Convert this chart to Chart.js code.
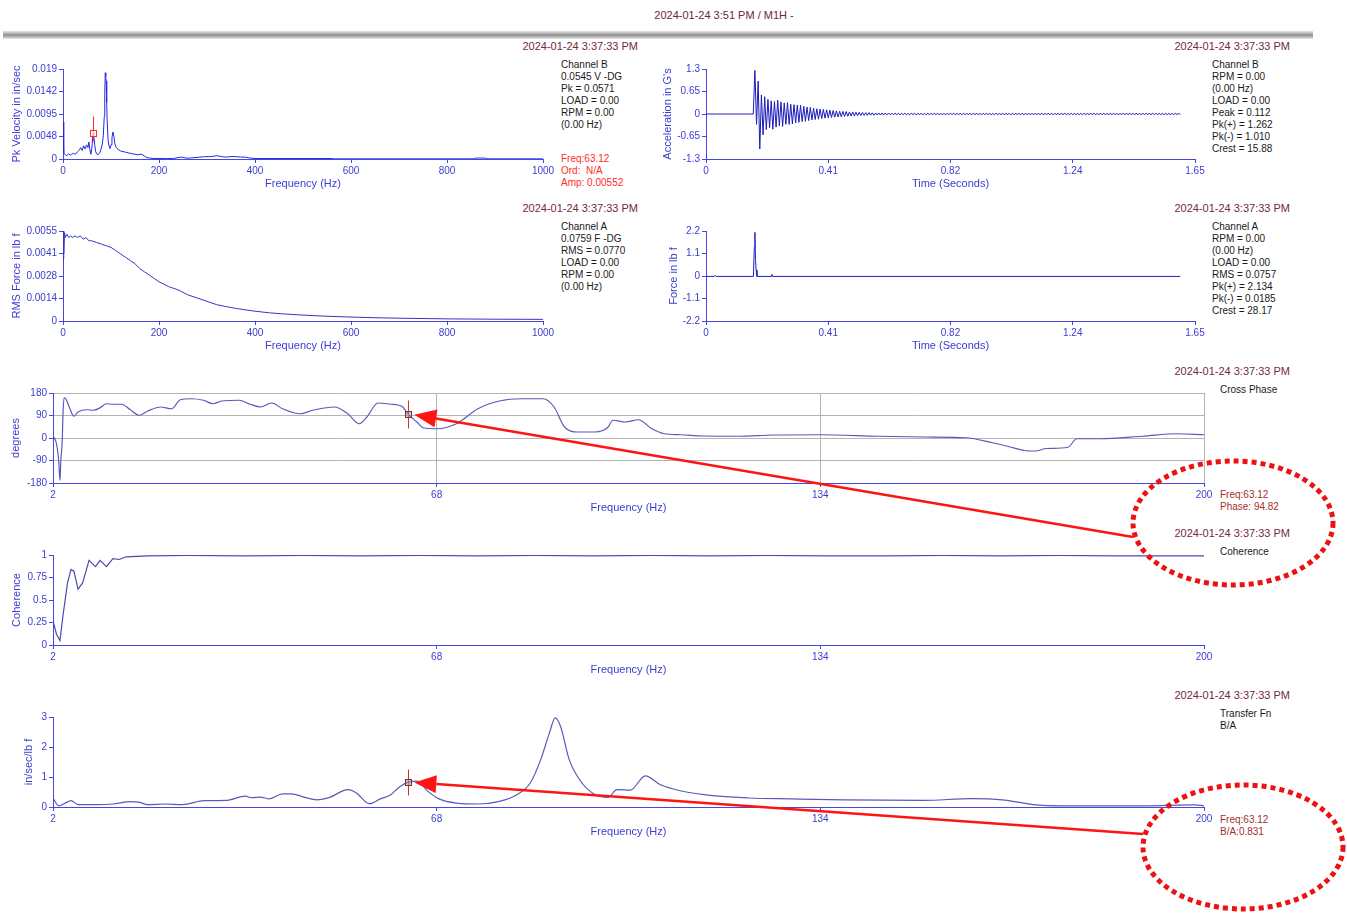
<!DOCTYPE html>
<html>
<head>
<meta charset="utf-8">
<script src="https://cdn.jsdelivr.net/npm/chart.js@4.4.1/dist/chart.umd.min.js"></script>
<style>
  html, body { margin: 0; padding: 0; background: #fff; }
  #stage { position: relative; width: 1347px; height: 913px; overflow: hidden; background: #fff;
           font-family: "Liberation Sans", Arial, sans-serif; }
  #stage canvas { position: absolute; }
  .txt { position: absolute; font-size: 10px; line-height: 12px; color: #1a1a1a; white-space: pre; }
  .stamp { position: absolute; font-size: 11px; line-height: 14px; color: #742848; white-space: pre; text-align: right; }
  .cur1 { color: #ff2a2a; }
  .cur2 { color: #a5302c; }
  #header { position: absolute; left: 0; width: 1448px; top: 9px; text-align: center; font-size: 11px; color: #6e2448; }
  #bar { position: absolute; left: 3px; width: 1310px; top: 31px; height: 8px;
         background: linear-gradient(#e6e6e6, #bdbdbd 25%, #8f8f8f 50%, #b8b8b8 75%, #ececec); }
  #overlay { z-index: 5; pointer-events: none; }
</style>
</head>
<body>
<div id="stage">
  <div id="header">2024-01-24 3:51 PM / M1H -</div>
  <div id="bar"></div>

  <div class="stamp" style="right:709px; top:39px;">2024-01-24 3:37:33 PM</div>
  <div class="stamp" style="right:57px; top:39px;">2024-01-24 3:37:33 PM</div>
  <div class="stamp" style="right:709px; top:201px;">2024-01-24 3:37:33 PM</div>
  <div class="stamp" style="right:57px; top:201px;">2024-01-24 3:37:33 PM</div>
  <div class="stamp" style="right:57px; top:364px;">2024-01-24 3:37:33 PM</div>
  <div class="stamp" style="right:57px; top:526px;">2024-01-24 3:37:33 PM</div>
  <div class="stamp" style="right:57px; top:688px;">2024-01-24 3:37:33 PM</div>

  <div class="txt" style="left:561px; top:59px;">Channel B
0.0545 V -DG
Pk = 0.0571
LOAD = 0.00
RPM = 0.00
(0.00 Hz)</div>
  <div class="txt cur1" style="left:561px; top:153px;">Freq:63.12
Ord:  N/A
Amp: 0.00552</div>

  <div class="txt" style="left:1212px; top:59px;">Channel B
RPM = 0.00
(0.00 Hz)
LOAD = 0.00
Peak = 0.112
Pk(+) = 1.262
Pk(-) = 1.010
Crest = 15.88</div>

  <div class="txt" style="left:561px; top:221px;">Channel A
0.0759 F -DG
RMS = 0.0770
LOAD = 0.00
RPM = 0.00
(0.00 Hz)</div>

  <div class="txt" style="left:1212px; top:221px;">Channel A
RPM = 0.00
(0.00 Hz)
LOAD = 0.00
RMS = 0.0757
Pk(+) = 2.134
Pk(-) = 0.0185
Crest = 28.17</div>

  <div class="txt" style="left:1220px; top:384px;">Cross Phase</div>
  <div class="txt cur2" style="left:1220px; top:489px;">Freq:63.12
Phase: 94.82</div>

  <div class="txt" style="left:1220px; top:546px;">Coherence</div>

  <div class="txt" style="left:1220px; top:708px;">Transfer Fn
B/A</div>
  <div class="txt cur2" style="left:1220px; top:814px;">Freq:63.12
B/A:0.831</div>

  <canvas id="overlay" width="1347" height="913" style="left:0;top:0;"></canvas>
</div>

<script>
// ---------- Channel B velocity spectrum (0-1000 Hz) ----------
const velFreq = [0, 1, 2, 5, 8, 12, 15, 18, 22, 26, 30, 34, 37, 40, 43, 46, 49, 52, 54, 56, 58, 60, 62, 63.12, 64, 66, 68, 70, 73, 76, 79, 82, 84, 86, 87, 88, 89, 90, 91, 92, 94, 96, 98, 100, 102, 104, 106, 108, 111, 115, 120, 128, 136, 145, 155, 162, 166, 170, 175, 180, 190, 200, 215, 230, 240, 248, 256, 265, 275, 285, 295, 305, 315, 322, 330, 340, 350, 360, 370, 380, 390, 400, 450, 500, 560, 565, 600, 700, 800, 855, 860, 880, 885, 900, 1000];
const velAmp = [0.0078, 0.0016, 0.0012, 0.0009, 0.0007, 0.0011, 0.0008, 0.0010, 0.0012, 0.0010, 0.0015, 0.0019, 0.0024, 0.0018, 0.0028, 0.0021, 0.0030, 0.0024, 0.0036, 0.0020, 0.0010, 0.0022, 0.0048, 0.00552, 0.0050, 0.0030, 0.0016, 0.0011, 0.0009, 0.0012, 0.0020, 0.0032, 0.0050, 0.0090, 0.0140, 0.0182, 0.0175, 0.0165, 0.0120, 0.0080, 0.0040, 0.0027, 0.0022, 0.0030, 0.0045, 0.0057, 0.0048, 0.0032, 0.0024, 0.0020, 0.0017, 0.0015, 0.0013, 0.0011, 0.0009, 0.0010, 0.0009, 0.0006, 0.0003, 0.0002, 0.0001, 0.0001, 0.00008, 0.0001, 0.0003, 0.0004, 0.0002, 0.0002, 0.0003, 0.0004, 0.0005, 0.0005, 0.0006, 0.0007, 0.0005, 0.0004, 0.0005, 0.0005, 0.0004, 0.0004, 0.0002, 0.0001, 0.0001, 0.0001, 0.0001, 0.00003, 0.00003, 0.00003, 0.00003, 0.00003, 0.0002, 0.0002, 0.00003, 0.00003, 0.00003];
const velYLabels = ['0', '0.0048', '0.0095', '0.0142', '0.019'];

// ---------- Channel B acceleration waveform ----------
const accStep = 0.0055; // seconds per sample
const accValues = [
  0,0,0,0,0,0,0,0,0,0, 0,0,0,0,0,0,0,0,0,0, 0,0,0,0,0,0,0,0,0,
  0, 1.26, -0.30, 0.95, -1.01, 0.55, -0.60, 0.50, -0.45, 0.42,
  -0.40, 0.38, -0.44, 0.36, -0.38, 0.40, -0.34, 0.35,
  -0.36, 0.32, -0.30, 0.33, -0.30, 0.28, -0.29, 0.27, -0.26,
  0.26, -0.24, 0.25, -0.22, 0.22, -0.21, 0.20, -0.19, 0.19, -0.17,
  0.17, -0.16, 0.15, -0.15, 0.14, -0.13, 0.13, -0.12, 0.12, -0.11,
  0.11, -0.10, 0.10, -0.09, 0.09, -0.085, 0.08, -0.08, 0.075, -0.07,
  0.07, -0.065, 0.06, -0.06, 0.06, -0.055, 0.05, -0.05, 0.05, -0.045,
  0.045, -0.04, 0.04, -0.04, 0.04, -0.035, 0.035, -0.035, 0.03, -0.03,
  0.03, -0.03, 0.03, -0.028, 0.028, -0.025, 0.025, -0.025, 0.025, -0.022,
  0.022,-0.02,0.02,-0.022,0.02,-0.018,0.022,-0.02,0.018,-0.02,0.02,-0.018,0.02,-0.02,0.018,-0.018,
  0.02,-0.02,0.018,-0.02,0.022,-0.018,0.02,-0.02,0.018,-0.018,0.02,-0.02,0.016,-0.018,0.02,-0.02,
  0.018,-0.018,0.02,-0.016,0.018,-0.02,0.02,-0.018,0.016,-0.018,0.02,-0.018,0.018,-0.016,0.018,-0.02,
  0.02,-0.018,0.016,-0.016,0.018,-0.02,0.018,-0.016,0.02,-0.018,0.016,-0.018,0.018,-0.02,0.02,-0.016,
  0.016,-0.018,0.02,-0.018,0.016,-0.016,0.018,-0.02,0.02,-0.018,0.016,-0.016,0.018,-0.018,0.02,-0.02,
  0.018,-0.016,0.016,-0.018,0.02,-0.018,0.018,-0.016,0.016,-0.02,0.02,-0.018,0.016,-0.016,0.018,-0.018,
  0.02,-0.02,0.018,-0.016,0.016,-0.018,0.02,-0.018,0.018,-0.016,0.016,-0.018,0.02,-0.02,0.018,-0.016,
  0.016,-0.018,0.018,-0.02,0.02,-0.016,0.016,-0.018,0.018,-0.018,0.02,-0.02,0.016,-0.016,0.018,-0.018,
  0.02,-0.018,0.016,-0.016,0.018,-0.02,0.02,-0.018,0.016,-0.018,0.018,-0.016,0.02,-0.02,0.018,-0.016,
  0.016,-0.018,0.02,-0.018,0.018,-0.016,0.016,-0.02,0.02,-0.018,0.018,-0.016,0.016,-0.018,0.02,-0.02,
  0.018,-0.016,0.016,-0.018,0.02,-0.02,0.018,-0.016,0.016,-0.018,0.018,-0.02,0.02,-0.016,0.016,-0.01
];
const accYLabels = ['-1.3', '-0.65', '0', '0.65', '1.3'];
const timeLabels = ['0', '0.41', '0.82', '1.24', '1.65'];

// ---------- Channel A force spectrum ----------
const forceFreq = [0, 1, 2, 3, 5, 8, 12, 16, 20, 25, 30, 36, 42, 48, 54, 60, 70, 80, 90, 100, 110, 120, 130, 140, 150, 160, 170, 180, 190, 200, 220, 240, 260, 280, 300, 320, 340, 360, 380, 400, 430, 460, 500, 550, 600, 650, 700, 800, 900, 1000];
const forceRms = [0.0038, 0.0055, 0.0041, 0.0054, 0.0051, 0.0053, 0.0051, 0.0052, 0.0051, 0.0052, 0.0051, 0.0052, 0.0050, 0.0051, 0.0049, 0.0049, 0.0048, 0.0047, 0.0046, 0.0045, 0.0043, 0.0041, 0.0039, 0.0037, 0.0035, 0.0032, 0.0030, 0.0028, 0.0026, 0.0024, 0.0021, 0.0019, 0.0016, 0.0014, 0.0012, 0.0010, 0.00088, 0.00077, 0.00068, 0.0006, 0.0005, 0.00043, 0.00036, 0.00029, 0.00024, 0.0002, 0.00017, 0.00013, 0.00011, 0.0001];
const forceYLabels = ['0', '0.0014', '0.0028', '0.0041', '0.0055'];
const freqLabels = ['0', '200', '400', '600', '800', '1000'];

// ---------- Channel A force waveform ----------
const hitTime = [0, 0.028, 0.031, 0.034, 0.16, 0.163, 0.165, 0.167, 0.169, 0.172, 0.22, 0.222, 0.225, 1.6];
const hitForce = [-0.02, -0.02, 0.03, -0.02, -0.02, 1.4, 2.134, 0.8, 0.3, -0.02, -0.02, 0.08, -0.02, -0.02];
const hitYLabels = ['-2.2', '-1.1', '0', '1.1', '2.2'];

// ---------- Cross phase, coherence, transfer function (2-200 Hz) ----------
const bandLabels = ['2', '68', '134', '200'];
const phaseFreq = [2, 2.6, 3.0, 3.2, 3.35, 3.6, 3.7, 3.9, 4.2, 4.8, 5.6, 6.3, 7.8, 9.0, 10.1, 11.2, 12.3, 13.8, 15.3, 16.8, 18.3, 20.5, 22.4, 23.9, 25.8, 27.9, 29.5, 31.0, 34.0, 35.9, 37.7, 39.6, 41.5, 44.5, 46.7, 50.4, 52.7, 54.7, 56.0, 57.9, 60.1, 62.0, 63.12, 64.6, 65.8, 68, 71.4, 75.1, 78.8, 82.6, 86.3, 88.2, 90.0, 92.3, 95.3, 97.5, 98.3, 100.5, 102.7, 105.0, 107.2, 110, 114, 120, 126, 134, 144, 152, 159, 163.8, 166.5, 169.1, 171, 172.9, 176.6, 178.1, 182, 189.4, 195.4, 200];
const phaseDeg = [10, -23, -96, -170, -90, -3, 84, 161, 157, 124, 87, 104, 113, 111, 121, 137, 135, 135, 113, 91, 108, 124, 117, 153, 157, 151, 137, 148, 151, 135, 124, 140, 117, 97, 111, 124, 97, 57, 84, 140, 135, 127, 94.82, 64, 40, 37, 57, 117, 148, 157, 157, 124, 44, 24, 24, 44, 71, 64, 73, 37, 17, 13, 8, 7, 12, 13, 7, 4, 1, -20, -35, -50, -52, -42, -37, -3, -3, 7, 17, 13];
const phaseLabels = ['-180', '-90', '0', '90', '180'];

const cohFreq = [2, 2.6, 3.2, 3.7, 4.5, 5.1, 5.6, 6.3, 7.1, 8.2, 9.3, 10.1, 11.2, 12.3, 13.4, 14.6, 18.3, 25, 35, 45, 55, 65, 75, 85, 95, 105, 115, 125, 135, 145, 155, 165, 175, 185, 195, 200];
const cohVal = [0.27, 0.12, 0.05, 0.32, 0.69, 0.84, 0.82, 0.62, 0.69, 0.94, 0.87, 0.94, 0.87, 0.96, 0.95, 0.98, 0.99, 0.995, 0.99, 0.995, 0.99, 0.995, 0.99, 0.995, 0.99, 0.995, 0.99, 0.995, 0.99, 0.99, 0.995, 0.99, 0.995, 0.99, 0.99, 0.99];
const cohLabels = ['0', '0.25', '0.5', '0.75', '1'];

const tfFreq = [2, 3, 4.1, 5.1, 6.3, 9.3, 12.3, 15.3, 16.8, 18.3, 21.3, 24.3, 28, 31.7, 35.1, 36.2, 37.7, 39.2, 41.5, 43.0, 45.2, 47.4, 49.7, 52.7, 54.2, 56.4, 58.3, 60.1, 61.6, 63.12, 64.6, 66.5, 68.4, 71.4, 75.1, 78.8, 81.8, 84.1, 85.9, 87.4, 88.4, 89.3, 90.8, 93.0, 95.3, 97.5, 99.0, 101.3, 103.9, 106.5, 108.7, 114.0, 121.6, 129.1, 138.1, 151.7, 160.0, 165.3, 170.6, 175.9, 189.4, 198.5, 200];
const tfVal = [0.30, 0.04, 0.13, 0.21, 0.08, 0.08, 0.10, 0.18, 0.16, 0.08, 0.10, 0.08, 0.21, 0.22, 0.36, 0.31, 0.33, 0.27, 0.44, 0.44, 0.33, 0.24, 0.33, 0.58, 0.47, 0.11, 0.27, 0.41, 0.67, 0.831, 0.86, 0.52, 0.27, 0.13, 0.10, 0.19, 0.41, 0.80, 1.58, 2.47, 2.97, 2.69, 1.58, 0.80, 0.41, 0.32, 0.58, 0.56, 1.04, 0.74, 0.60, 0.41, 0.30, 0.27, 0.24, 0.22, 0.28, 0.24, 0.08, 0.04, 0.04, 0.07, 0.04];
const tfLabels = ['0', '1', '2', '3'];

// cursor readout
const cursorFreq = 63.12;
const cursorAmp = 0.00552;
const cursorPhase = 94.82;
const cursorBA = 0.831;

// ---------- drawing ----------
const FONT = '"Liberation Sans", Arial, sans-serif';
const AXIS_BLUE = '#4646e0';
const LABEL_BLUE = '#3c3cd2';
Chart.defaults.font.family = FONT;

const stage = document.getElementById('stage');

// Tick values spaced evenly between min and max, one per label
const evenTicks = labels => scale => {
  scale.ticks = labels.map((_, i) => ({ value: scale.min + i * (scale.max - scale.min) / (labels.length - 1) }));
};

// Cursor: short vertical hairline plus a small square on the selected point
const cursorPlugin = {
  id: 'cursorMark',
  afterDatasetsDraw(chart, args, opts) {
    if (!opts || opts.x === undefined) return;
    const { ctx, scales } = chart;
    const px = Math.round(scales.x.getPixelForValue(opts.x)) + 0.5;
    const py = Math.round(scales.y.getPixelForValue(opts.y)) + 0.5;
    ctx.save();
    ctx.strokeStyle = opts.lineColor;
    ctx.lineWidth = 1;
    ctx.beginPath();
    ctx.moveTo(px, py - opts.up);
    ctx.lineTo(px, py + opts.down);
    ctx.stroke();
    ctx.fillStyle = opts.fill;
    ctx.fillRect(px - 3, py - 3, 6, 6);
    ctx.strokeStyle = opts.boxColor;
    ctx.strokeRect(px - 3, py - 3, 6, 6);
    ctx.restore();
  }
};

function panel(p) {
  const cv = document.createElement('canvas');
  cv.width = p.w; cv.height = 140;
  cv.style.left = p.left + 'px';
  cv.style.top = p.top + 'px';
  stage.insertBefore(cv, document.getElementById('overlay'));
  const data = p.xs.map((x, i) => ({ x, y: p.ys[i] }));
  const gridOpts = p.grid
    ? { drawOnChartArea: true, drawTicks: true, tickLength: 4, tickColor: AXIS_BLUE, lineWidth: 1,
        color: c => (c.tick && (c.tick.value === p.gridSkip)) ? 'rgba(0,0,0,0)' : '#b4b4b4' }
    : { drawOnChartArea: false, drawTicks: true, tickLength: 4, tickColor: AXIS_BLUE };
  const chart = new Chart(cv, {
    type: 'line',
    data: { datasets: [{ data, borderColor: p.color, borderWidth: p.lw || 1, pointRadius: 0,
                         tension: p.tension || 0, cubicInterpolationMode: p.tension ? 'monotone' : 'default', fill: false }] },
    options: {
      responsive: false, animation: false, devicePixelRatio: 1,
      layout: { padding: { top: 14, right: 20, left: 0, bottom: 0 } },
      plugins: { legend: { display: false }, tooltip: { enabled: false }, cursorMark: p.cursor || {} },
      scales: {
        x: {
          type: 'linear', min: p.xMin, max: p.xMax,
          afterFit: s => { s.height = 36; },
          afterBuildTicks: evenTicks(p.xLabels),
          ticks: { callback: (v, i) => p.xLabels[i], color: LABEL_BLUE, font: { size: 10 }, padding: 2,
                   maxRotation: 0, autoSkip: false },
          grid: Object.assign({}, gridOpts, p.grid ? { color: c => (c.tick && c.tick.value === p.xMin) ? 'rgba(0,0,0,0)' : '#b4b4b4' } : {}),
          border: { color: AXIS_BLUE, width: 1 },
          title: { display: true, text: p.xTitle, color: LABEL_BLUE, font: { size: 11 }, padding: { top: 0, bottom: 4 } }
        },
        y: {
          type: 'linear', min: p.yMin, max: p.yMax,
          afterFit: s => { s.width = p.yw; },
          afterBuildTicks: evenTicks(p.yLabels),
          ticks: { callback: (v, i) => p.yLabels[i], color: LABEL_BLUE, font: { size: 10 }, padding: 2, autoSkip: false },
          grid: gridOpts,
          border: { color: AXIS_BLUE, width: 1 },
          title: { display: true, text: p.yTitle, color: LABEL_BLUE, font: { size: 11 }, padding: { top: p.ytp, bottom: 0 } }
        }
      }
    },
    plugins: [cursorPlugin]
  });
  chart.$left = p.left; chart.$top = p.top;
  return chart;
}

const accTime = accValues.map((_, i) => i * accStep);

panel({ left: 0, top: 55, w: 563, yw: 63, ytp: 10, xs: velFreq, ys: velAmp, color: '#2626e6',
        xMin: 0, xMax: 1000, xLabels: freqLabels, yMin: 0, yMax: 0.019, yLabels: velYLabels,
        xTitle: 'Frequency (Hz)', yTitle: 'Pk Velocity in in/sec',
        cursor: { x: cursorFreq, y: cursorAmp, up: 17, down: 8, lineColor: '#ff2a2a', boxColor: '#ff2a2a', fill: 'rgba(255,255,255,0.6)' } });

panel({ left: 650, top: 55, w: 565, yw: 56, ytp: 11, xs: accTime, ys: accValues, color: '#1a1ab8',
        xMin: 0, xMax: 1.65, xLabels: timeLabels, yMin: -1.3, yMax: 1.3, yLabels: accYLabels,
        xTitle: 'Time (Seconds)', yTitle: "Acceleration in G's" });

panel({ left: 0, top: 217, w: 563, yw: 63, ytp: 10, xs: forceFreq, ys: forceRms, color: '#3636c4',
        xMin: 0, xMax: 1000, xLabels: freqLabels, yMin: 0, yMax: 0.0055, yLabels: forceYLabels,
        xTitle: 'Frequency (Hz)', yTitle: 'RMS Force in lb f' });

panel({ left: 650, top: 217, w: 565, yw: 56, ytp: 17, xs: hitTime, ys: hitForce, color: '#1c1cc8',
        xMin: 0, xMax: 1.65, xLabels: timeLabels, yMin: -2.2, yMax: 2.2, yLabels: hitYLabels,
        xTitle: 'Time (Seconds)', yTitle: 'Force in lb f' });

const phaseChart = panel({ left: 0, top: 379, w: 1224, yw: 53, ytp: 9, xs: phaseFreq, ys: phaseDeg, color: '#5a5ab6', lw: 1.2,
        tension: 0.4, grid: true, gridSkip: -180,
        xMin: 2, xMax: 200, xLabels: bandLabels, yMin: -180, yMax: 180, yLabels: phaseLabels,
        xTitle: 'Frequency (Hz)', yTitle: 'degrees',
        cursor: { x: cursorFreq, y: cursorPhase, up: 14, down: 14, lineColor: '#c03a30', boxColor: '#7a3434', fill: 'rgba(150,150,170,0.5)' } });

panel({ left: 0, top: 541, w: 1224, yw: 53, ytp: 10, xs: cohFreq, ys: cohVal, color: '#4a4ab0', lw: 1.2,
        xMin: 2, xMax: 200, xLabels: bandLabels, yMin: 0, yMax: 1, yLabels: cohLabels,
        xTitle: 'Frequency (Hz)', yTitle: 'Coherence' });

const tfChart = panel({ left: 0, top: 703, w: 1224, yw: 53, ytp: 22, xs: tfFreq, ys: tfVal, color: '#5a5ab6', lw: 1.2,
        tension: 0.4,
        xMin: 2, xMax: 200, xLabels: bandLabels, yMin: 0, yMax: 3, yLabels: tfLabels,
        xTitle: 'Frequency (Hz)', yTitle: 'in/sec/lb f',
        cursor: { x: cursorFreq, y: cursorBA, up: 13, down: 13, lineColor: '#c03a30', boxColor: '#7a3434', fill: 'rgba(150,150,170,0.5)' } });

// ---------- callouts: red arrows to the cursor points and dotted rings round the readouts ----------
const ov = document.getElementById('overlay').getContext('2d');

function pointOf(chart, x, y) {
  return { x: chart.$left + chart.scales.x.getPixelForValue(x), y: chart.$top + chart.scales.y.getPixelForValue(y) };
}

function arrow(ctx, x0, y0, x1, y1) {
  const a = Math.atan2(y1 - y0, x1 - x0);
  const L = 22, W = 9;
  const bx = x1 - L * Math.cos(a), by = y1 - L * Math.sin(a);
  ctx.strokeStyle = '#ff1414';
  ctx.fillStyle = '#ff1414';
  ctx.lineWidth = 2.5;
  ctx.beginPath(); ctx.moveTo(x0, y0); ctx.lineTo(bx, by); ctx.stroke();
  ctx.beginPath();
  ctx.moveTo(x1, y1);
  ctx.lineTo(bx + W * Math.sin(a), by - W * Math.cos(a));
  ctx.lineTo(bx - W * Math.sin(a), by + W * Math.cos(a));
  ctx.closePath(); ctx.fill();
}

function ring(ctx, cx, cy) {
  ctx.save();
  ctx.strokeStyle = '#ee1111';
  ctx.lineWidth = 5;
  ctx.setLineDash([5, 4]);
  ctx.beginPath();
  ctx.ellipse(cx, cy, 100, 62, 0, 0, Math.PI * 2);
  ctx.stroke();
  ctx.restore();
}

[[phaseChart, cursorPhase, -71, 54, 29, 40], [tfChart, cursorBA, -61, 27, 39, 40]].forEach(([ch, val, tdx, tdy, rdx, rdy]) => {
  const p = pointOf(ch, cursorFreq, val);
  const area = ch.chartArea;
  const right = ch.$left + area.right, bottom = ch.$top + area.bottom;
  ring(ov, right + rdx, bottom + rdy);
  arrow(ov, right + tdx, bottom + tdy, p.x + 6, p.y + 0.5);
});
</script>
</body>
</html>
